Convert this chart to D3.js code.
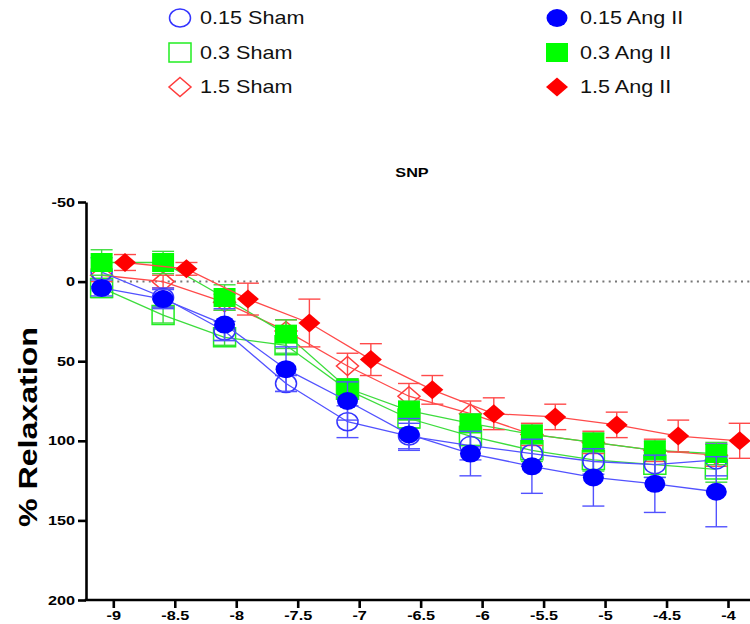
<!DOCTYPE html>
<html>
<head>
<meta charset="utf-8">
<script src="https://cdn.jsdelivr.net/npm/d3@7"></script>
<style>
  body { margin: 0; background: #fff; }
  svg { display: block; font-family: "Liberation Sans", Arial, sans-serif; }
</style>
</head>
<body>
<script>
// log [SNP] (M)
const doses = [-9, -8.5, -8, -7.5, -7, -6.5, -6, -5.5, -5, -4.5, -4];

// % relaxation, mean and SEM
const sham015 = [-6, 10, 31, 64, 88, 97, 103, 108, 113, 115, 112];
const sham015Sem = [9, 6, 6, 5, 10, 8, 9, 8, 8, 8, 10];
const sham03 = [4, 21, 35, 40, 68, 86, 97, 106, 112, 115, 118];
const sham03Sem = [6, 5, 5, 5, 6, 6, 6, 7, 7, 8, 8];
const sham15 = [-4, 0, 13, 31, 53, 72, 83, 96, 101, 106, 109];
const sham15Sem = [4, 4, 5, 7, 8, 8, 8, 7, 7, 7, 7];
const ang015 = [4, 11, 27, 55, 75, 96, 108, 116, 123, 127, 132];
const ang015Sem = [5, 6, 10, 14, 12, 10, 14, 17, 18, 18, 22];
const ang03 = [-12, -12, 10, 33, 67, 81, 89, 96, 101, 106, 108];
const ang03Sem = [8, 7, 8, 9, 6, 6, 6, 6, 6, 6, 7];
const ang15 = [-12, -8, 11, 26, 49, 68, 83, 85, 90, 97, 100];
const ang15Sem = [5, 4, 10, 15, 10, 9, 10, 8, 8, 10, 11];

const yTicks = [-50, 0, 50, 100, 150, 200];
const xTicks = [-9, -8.5, -8, -7.5, -7, -6.5, -6, -5.5, -5, -4.5, -4];

const width = 750;
const height = 624;
const stretch = 1.3; // the original picture is wider than tall

const series = [
    { name: "0.3 Sham", values: sham03, sem: sham03Sem, color: "#22ee22", line: "#3ddc3d", shape: "square", filled: false, nudge: -0.095 },
    { name: "1.5 Sham", values: sham15, sem: sham15Sem, color: "#ff3b3b", line: "#ff4a4a", shape: "diamond", filled: false, nudge: -0.095 },
    { name: "0.15 Sham", values: sham015, sem: sham015Sem, color: "#3434ff", line: "#5252ff", shape: "circle", filled: false, nudge: -0.095 },
    { name: "0.3 Ang II", values: ang03, sem: ang03Sem, color: "#00ff00", line: "#3ddc3d", shape: "square", filled: true, nudge: -0.095 },
    { name: "1.5 Ang II", values: ang15, sem: ang15Sem, color: "#ff0000", line: "#ff4a4a", shape: "diamond", filled: true, nudge: 0.095 },
    { name: "0.15 Ang II", values: ang015, sem: ang015Sem, color: "#0000ff", line: "#5252ff", shape: "circle", filled: true, nudge: -0.095 }
];

const legendOrder = ["0.15 Sham", "0.3 Sham", "1.5 Sham", "0.15 Ang II", "0.3 Ang II", "1.5 Ang II"];

const x = d3.scaleLinear().domain([-9, -4]).range([113.3, 728]);
const y = d3.scaleLinear().domain([-50, 200]).range([202, 600]);

const svg = d3.select("body").append("svg")
    .attr("width", width)
    .attr("height", height);

function markerPath(shape) {
    if (shape === "square") return "M-11,-9.5H11V9.5H-11Z";
    if (shape === "diamond") return "M0,-9.5L11,0L0,9.5L-11,0Z";
    return "M-10.5,0A10.5,9 0 1,0 10.5,0A10.5,9 0 1,0 -10.5,0Z";
}

function drawMarker(g, s) {
    g.append("path")
        .attr("d", markerPath(s.shape))
        .attr("fill", s.filled ? s.color : "none")
        .attr("stroke", s.color)
        .attr("stroke-width", s.filled ? 0 : 1.5);
}

// zero reference line
svg.append("line")
    .attr("x1", 111).attr("x2", width)
    .attr("y1", y(0)).attr("y2", y(0))
    .attr("stroke", "#777")
    .attr("stroke-width", 2)
    .attr("stroke-dasharray", "2,4.3");

// series
const line = d3.line()
    .x(d => d.px)
    .y(d => d.py);

series.forEach(s => {
    const pts = doses.map((d, i) => ({
        px: x(d + s.nudge),
        py: y(s.values[i]),
        lo: y(s.values[i] - s.sem[i]),
        hi: y(s.values[i] + s.sem[i])
    }));
    const g = svg.append("g");

    g.append("path")
        .datum(pts)
        .attr("d", line)
        .attr("fill", "none")
        .attr("stroke", s.line)
        .attr("stroke-width", 1.3);

    const bars = g.selectAll("g.bar")
        .data(pts)
        .join("g")
        .attr("class", "bar")
        .attr("stroke", s.line)
        .attr("stroke-width", 1.4);
    bars.append("line")
        .attr("x1", d => d.px).attr("x2", d => d.px)
        .attr("y1", d => d.lo).attr("y2", d => d.hi);
    bars.append("line")
        .attr("x1", d => d.px - 11).attr("x2", d => d.px + 11)
        .attr("y1", d => d.lo).attr("y2", d => d.lo);
    bars.append("line")
        .attr("x1", d => d.px - 11).attr("x2", d => d.px + 11)
        .attr("y1", d => d.hi).attr("y2", d => d.hi);

    g.selectAll("g.pt")
        .data(pts)
        .join("g")
        .attr("class", "pt")
        .attr("transform", d => `translate(${d.px},${d.py})`)
        .each(function () { drawMarker(d3.select(this), s); });
});

// axes
const yAxis = svg.append("g")
    .attr("transform", "translate(86,0)")
    .call(d3.axisLeft(y).tickValues(yTicks).tickSize(8).tickSizeOuter(0).tickPadding(3).tickFormat(d => String(d)));
yAxis.select(".domain").attr("stroke-width", 2.6);
yAxis.selectAll(".tick line").attr("stroke-width", 2.6);
yAxis.selectAll(".tick text")
    .attr("x", -11 / stretch)
    .attr("transform", `scale(${stretch},1)`)
    .attr("font-size", 12.5)
    .attr("font-weight", "bold")
    .attr("fill", "#000");

const xAxis = svg.append("g")
    .attr("transform", "translate(0,600)")
    .call(d3.axisBottom(x).tickValues(xTicks).tickSize(8).tickSizeOuter(0).tickPadding(3).tickFormat(d => String(d)));
xAxis.select(".domain").remove();
xAxis.selectAll(".tick line").attr("stroke-width", 2.6);
xAxis.selectAll(".tick text")
    .attr("transform", `scale(${stretch},1)`)
    .attr("font-size", 12.5)
    .attr("font-weight", "bold")
    .attr("fill", "#000");
xAxis.append("line")
    .attr("x1", 84.7).attr("x2", width)
    .attr("stroke", "#000")
    .attr("stroke-width", 2.6);

// title and axis label
svg.append("text")
    .attr("transform", `translate(412,177) scale(${stretch},1)`)
    .attr("text-anchor", "middle")
    .attr("font-size", 12.5)
    .attr("font-weight", "bold")
    .text("SNP");

svg.append("text")
    .attr("transform", "translate(37,427) rotate(-90)")
    .attr("text-anchor", "middle")
    .attr("font-size", 25)
    .attr("font-weight", "bold")
    .attr("textLength", 200)
    .attr("lengthAdjust", "spacingAndGlyphs")
    .text("% Relaxation");

// legend
const legend = svg.append("g");
legendOrder.forEach((name, i) => {
    const s = series.find(d => d.name === name);
    const col = Math.floor(i / 3);
    const row = i % 3;
    const lx = col === 0 ? 180 : 557;
    const ly = 18 + row * 34.5;
    const item = legend.append("g").attr("transform", `translate(${lx},${ly})`);
    drawMarker(item, s);
    item.append("text")
        .attr("transform", `translate(${col === 0 ? 20 : 23},0) scale(1.2,1)`)
        .attr("dy", "0.35em")
        .attr("font-size", 18)
        .attr("fill", "#111")
        .text(name);
});
</script>
</body>
</html>
